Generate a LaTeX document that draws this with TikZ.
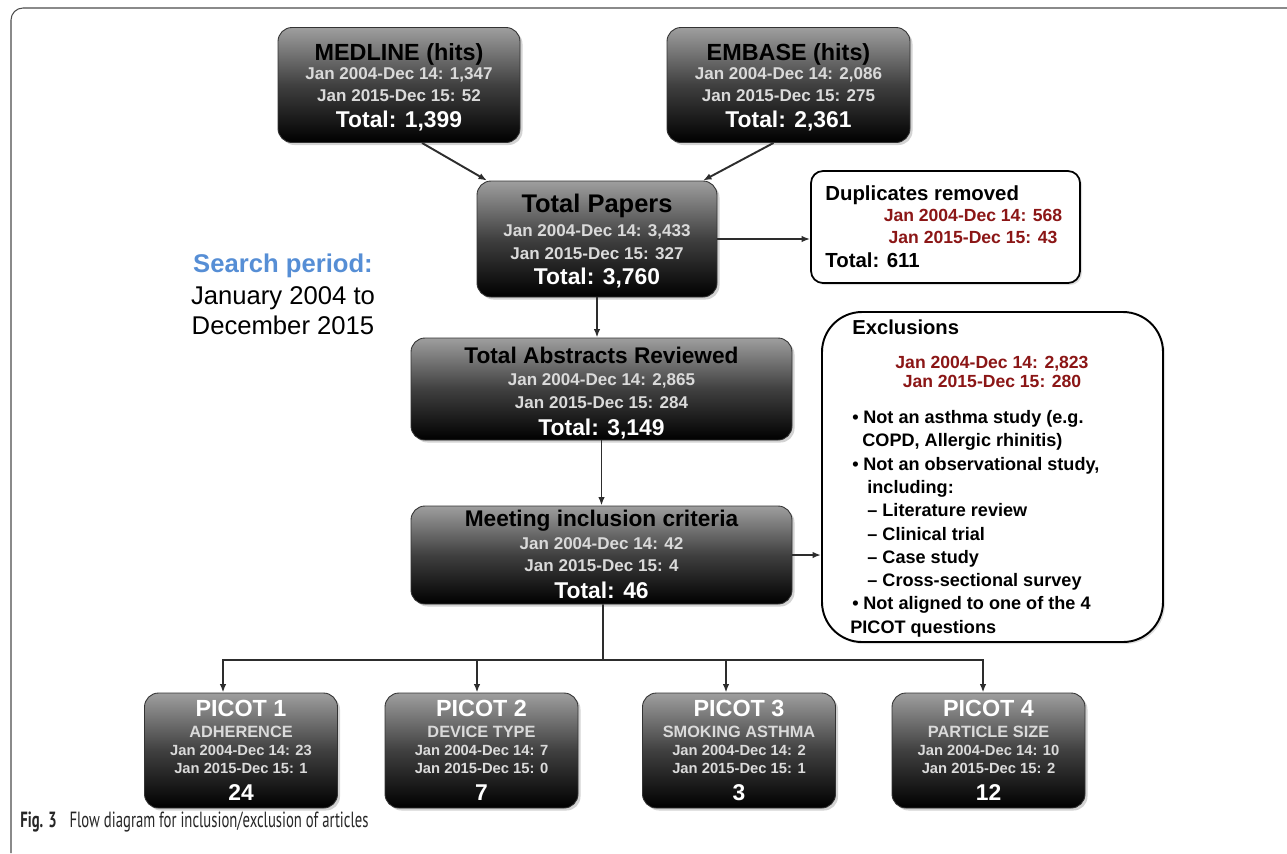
\documentclass[tikz,border=0pt]{standalone}
\usepackage{fontspec}
\setmainfont{Liberation Sans}
\newfontfamily\capfont[FakeStretch=0.67]{PT Sans}
\usetikzlibrary{arrows.meta,shadows,calc}
\definecolor{dred}{RGB}{139,22,22}
\definecolor{sblue}{RGB}{86,142,213}
\definecolor{lgr}{RGB}{218,218,218}
\definecolor{lnc}{RGB}{45,45,45}
\newcommand\pxu{0.02cm}
\begin{document}
\begin{tikzpicture}[x=0.02cm,y=-0.02cm,
  dbox/.style={draw=black!80, line width=0.5pt, rounded corners=0.28cm,
    top color=black!38, bottom color=black, middle color=black!75,
    drop shadow={shadow xshift=0.05cm, shadow yshift=-0.05cm, opacity=0.35},
    inner sep=0pt},
  wbox/.style={draw=black, fill=white, inner sep=0pt,
    drop shadow={shadow xshift=0.04cm, shadow yshift=-0.04cm, opacity=0.25}},
  ln/.style={inner sep=0pt, text height=0.716*#1pt, text depth=0pt},
  bt/.style={ln=#1, text=black, font=\bfseries\fontsize{#1pt}{#1pt}\selectfont},
  wt/.style={ln=#1, text=white, font=\bfseries\fontsize{#1pt}{#1pt}\selectfont},
  gt/.style={ln=#1, text=lgr, font=\bfseries\fontsize{#1pt}{#1pt}\selectfont},
  rt/.style={ln=#1, text=dred, font=\bfseries\fontsize{#1pt}{#1pt}\selectfont},
  kt/.style={ln=#1, text=black, anchor=west, font=\bfseries\fontsize{#1pt}{#1pt}\selectfont},
  cn/.style={draw=lnc, line width=1.1pt, -{Latex[length=0.17cm,width=0.13cm]}},
  cl/.style={draw=lnc, line width=1.1pt}
]
\useasboundingbox (0,0) rectangle (1287,853);
% frame
\draw[black!70, line width=0.6pt, rounded corners=0.24cm] (1287,8) -- (11,8) -- (11,853);

% MEDLINE
\node[dbox, minimum width=242*\pxu, minimum height=115*\pxu] (med) at (399,85) {};
\node[bt=13.3] (med-t) at (399,52) {MEDLINE (hits)};
\node[gt=9.7] (med-a) at (399,73) {Jan 2004-Dec 14: 1,347};
\node[gt=9.7] (med-b) at (399,95) {Jan 2015-Dec 15: 52};
\node[wt=13] (med-c) at (399,119) {Total: 1,399};
% EMBASE
\node[dbox, minimum width=243*\pxu, minimum height=115*\pxu] (emb) at (788.5,85) {};
\node[bt=13.3] (emb-t) at (788.5,52) {EMBASE (hits)};
\node[gt=9.7] (emb-a) at (788.5,73) {Jan 2004-Dec 14: 2,086};
\node[gt=9.7] (emb-b) at (788.5,95) {Jan 2015-Dec 15: 275};
\node[wt=13] (emb-c) at (788.5,119) {Total: 2,361};
% Total papers
\node[dbox, minimum width=240*\pxu, minimum height=116*\pxu] (tp) at (597,239) {};
\node[bt=14.5] (tp-t) at (597,203) {Total Papers};
\node[gt=9.7] (tp-a) at (597,230) {Jan 2004-Dec 14: 3,433};
\node[gt=9.7] (tp-b) at (597,253) {Jan 2015-Dec 15: 327};
\node[wt=13] (tp-c) at (597,276) {Total: 3,760};
% Abstracts
\node[dbox, minimum width=381*\pxu, minimum height=102*\pxu] (abs) at (601.5,389) {};
\node[bt=12.9] (abs-t) at (601.5,355) {Total Abstracts Reviewed};
\node[gt=9.7] (abs-a) at (601.5,379) {Jan 2004-Dec 14: 2,865};
\node[gt=9.7] (abs-b) at (601.5,402) {Jan 2015-Dec 15: 284};
\node[wt=13] (abs-c) at (601.5,427) {Total: 3,149};
% Meeting
\node[dbox, minimum width=381*\pxu, minimum height=98*\pxu] (meet) at (601.5,555) {};
\node[bt=12.9] (meet-t) at (601.5,518) {Meeting inclusion criteria};
\node[gt=9.7] (meet-a) at (601.5,543) {Jan 2004-Dec 14: 42};
\node[gt=9.7] (meet-b) at (601.5,565) {Jan 2015-Dec 15: 4};
\node[wt=13] (meet-c) at (601.5,590) {Total: 46};
% PICOTs
\node[dbox, minimum width=193*\pxu, minimum height=115*\pxu] (p1) at (241,750.5) {};
\node[wt=13.3] (p1-t) at (241,708) {PICOT 1};
\node[gt=9.3] (p1-s) at (241,732) {ADHERENCE};
\node[gt=8.4] (p1-a) at (241,750) {Jan 2004-Dec 14: 23};
\node[gt=8.4] (p1-b) at (241,768) {Jan 2015-Dec 15: 1};
\node[wt=13] (p1-c) at (241,792) {24};
\node[dbox, minimum width=193*\pxu, minimum height=115*\pxu] (p2) at (481.5,750.5) {};
\node[wt=13.3] (p2-t) at (481.5,708) {PICOT 2};
\node[gt=9.3] (p2-s) at (481.5,732) {DEVICE TYPE};
\node[gt=8.4] (p2-a) at (481.5,750) {Jan 2004-Dec 14: 7};
\node[gt=8.4] (p2-b) at (481.5,768) {Jan 2015-Dec 15: 0};
\node[wt=13] (p2-c) at (481.5,792) {7};
\node[dbox, minimum width=193*\pxu, minimum height=115*\pxu] (p3) at (739,750.5) {};
\node[wt=13.3] (p3-t) at (739,708) {PICOT 3};
\node[gt=9.3] (p3-s) at (739,732) {SMOKING ASTHMA};
\node[gt=8.4] (p3-a) at (739,750) {Jan 2004-Dec 14: 2};
\node[gt=8.4] (p3-b) at (739,768) {Jan 2015-Dec 15: 1};
\node[wt=13] (p3-c) at (739,792) {3};
\node[dbox, minimum width=193*\pxu, minimum height=115*\pxu] (p4) at (988.5,750.5) {};
\node[wt=13.3] (p4-t) at (988.5,708) {PICOT 4};
\node[gt=9.3] (p4-s) at (988.5,732) {PARTICLE SIZE};
\node[gt=8.4] (p4-a) at (988.5,750) {Jan 2004-Dec 14: 10};
\node[gt=8.4] (p4-b) at (988.5,768) {Jan 2015-Dec 15: 2};
\node[wt=13] (p4-c) at (988.5,792) {12};

% Duplicates
\node[wbox, line width=1pt, rounded corners=0.24cm, minimum width=269*\pxu, minimum height=112*\pxu] (dup) at (945.5,227) {};
\node[kt=11.6] (dup-t) at (825,193) {Duplicates removed};
\node[rt=10] (dup-a) at (973,215) {Jan 2004-Dec 14: 568};
\node[rt=10] (dup-b) at (973,237) {Jan 2015-Dec 15: 43};
\node[kt=11.6] (dup-c) at (825,260) {Total: 611};

% Exclusions
\node[wbox, line width=1.1pt, rounded corners=0.8cm, minimum width=341*\pxu, minimum height=330*\pxu] (excl) at (992.5,477) {};
\node[kt=11.5] (ex-t) at (852,327) {Exclusions};
\node[rt=10] (ex-a) at (992,362) {Jan 2004-Dec 14: 2,823};
\node[rt=10] (ex-b) at (992,381) {Jan 2015-Dec 15: 280};
\node[kt=10.3] (ex-1) at (852,417) {\makebox[0.22cm][l]{•}Not an asthma study (e.g.};
\node[kt=10.3] (ex-2) at (862,440) {COPD, Allergic rhinitis)};
\node[kt=10.3] (ex-3) at (852,464) {\makebox[0.22cm][l]{•}Not an observational study,};
\node[kt=10.3] (ex-4) at (867,487) {including:};
\node[kt=10.3] (ex-5) at (867,510) {– Literature review};
\node[kt=10.3] (ex-6) at (867,534) {– Clinical trial};
\node[kt=10.3] (ex-7) at (867,557) {– Case study};
\node[kt=10.3] (ex-8) at (867,580) {– Cross-sectional survey};
\node[kt=10.3] (ex-9) at (852,603) {\makebox[0.22cm][l]{•}Not aligned to one of the 4};
\node[kt=10.3] (ex-10) at (850,627) {PICOT questions};

% Search period
\node[ln=14.6, text=sblue, font=\bfseries\fontsize{14.6pt}{14.6pt}\selectfont] (sp-t) at (283,263) {Search period:};
\node[ln=14.6, font=\fontsize{14.6pt}{14.6pt}\selectfont] (sp-a) at (283,295) {January 2004 to};
\node[ln=14.6, font=\fontsize{14.6pt}{14.6pt}\selectfont] (sp-b) at (283,325) {December 2015};

% Caption
\node[anchor=west, inner sep=0pt, text=black!85, font=\capfont\fontsize{12.5pt}{14pt}\selectfont] (cap) at (20,822) {\textbf{Fig. 3}\hspace{0.26cm}Flow diagram for inclusion/exclusion of articles};

% connectors
\draw[cn] ([xshift=23*\pxu]med.south) -- ([xshift=-110*\pxu]tp.north);
\draw[cn] ([xshift=-15*\pxu]emb.south) -- ([xshift=106*\pxu]tp.north);
\draw[cn] (tp.east) -- (tp.east -| dup.west);
\draw[cn] (tp.south) -- (tp.south |- abs.north);
\draw[cn] (abs.south) -- (meet.north);
\draw[cn] (meet.east) -- (meet.east -| excl.west);
\coordinate (j) at (603,660);
\draw[cl] ([xshift=1.5*\pxu]meet.south) -- (j);
\draw[cn] (j) -| ([xshift=-18*\pxu]p1.north);
\draw[cn] (j) -| ([xshift=-4.5*\pxu]p2.north);
\draw[cn] (j) -| ([xshift=-13*\pxu]p3.north);
\draw[cn] (j) -| ([xshift=-5.5*\pxu]p4.north);
\end{tikzpicture}
\end{document}
